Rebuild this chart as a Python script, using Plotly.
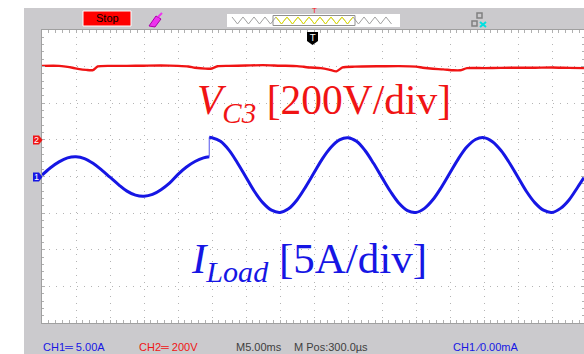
import plotly.graph_objects as go

# ---- CH1: load current (A), sampled in ms ----
i_before_t = [0, 1.25, 2.5, 3.75, 5, 6.25, 7.5, 8.75, 10, 11.25, 12.5, 13.75, 15,
              16.25, 17.5, 18.75, 20, 21.25, 22.5, 23.75, 24.6]
i_before_a = [0.2, 1.2, 2.0, 2.55, 2.7, 2.45, 1.8, 0.9, -0.1, -1.1, -2.0, -2.55, -2.7,
              -2.45, -1.8, -0.9, 0.3, 1.3, 2.05, 2.55, 2.7]

i_after_t = [24.6, 25, 26.25, 27.5, 28.75, 30, 31.25, 32.5, 33.75, 35, 36.25, 37.5, 38.75,
             40, 41.25, 42.5, 43.75, 45, 46.25, 47.5, 48.75, 50, 51.25, 52.5, 53.75,
             55, 56.25, 57.5, 58.75, 60, 61.25, 62.5, 63.75, 65, 66.25, 67.5, 68.75,
             70, 71.25, 72.5, 73.75, 75, 76.25, 77.5, 78.75, 79.7]
i_after_a = [5.35, 5.3, 4.8, 3.6, 1.85, -0.1, -2.05, -3.6, -4.6, -4.9, -4.4, -3.2, -1.45,
             0.5, 2.45, 4.0, 5.0, 5.3, 4.8, 3.55, 1.8, -0.15, -2.05, -3.65, -4.65,
             -4.9, -4.35, -3.15, -1.45, 0.5, 2.45, 4.05, 5.05, 5.3, 4.75, 3.55, 1.85,
             -0.1, -2.05, -3.6, -4.6, -4.9, -4.35, -3.2, -1.5, -0.15]

# ---- CH2: capacitor voltage V_C3 (V) ----
v_t = [0, 2.5, 3.5, 4.5, 5.5, 6.5, 7.5, 8.2, 10, 12.5, 15, 17.5, 20, 21.5, 22.5, 24, 25,
       25.8, 27.5, 30, 32.5, 35, 37.5, 38.5, 39.5, 41, 42.2, 43.3, 44.2, 46, 50, 52.5,
       55, 56, 57.5, 59, 60.5, 61.5, 62.5, 65, 67.5, 70, 72.5, 75, 77.5, 79.7]
v_v = [404, 404, 400, 394, 386, 382, 381, 401, 404, 404, 405, 406, 404, 401, 394, 389,
       390, 402, 404, 406, 408, 405, 403, 399, 395, 392, 384, 374, 396, 400, 402, 403,
       400, 394, 388, 385, 380, 380, 392, 392, 393, 394, 394, 395, 393, 392]

BLUE = "#1616e4"
RED = "#f01414"
GRAY_BG = "#cbcacd"

W, H = 584, 354
L, T, B = 42, 30, 31
PW, PH = W - L, H - T - B   # plot area in px


def px(x):
    return (x - L) / PW


def py(y):
    return (H - B - y) / PH


fig = go.Figure()

fig.add_trace(go.Scatter(x=v_t, y=v_v, yaxis="y2", mode="lines",
                         line=dict(color=RED, width=2.4, shape="spline", smoothing=0.6),
                         hoverinfo="skip"))
fig.add_trace(go.Scatter(x=i_before_t, y=i_before_a, mode="lines",
                         line=dict(color=BLUE, width=3, shape="spline"), hoverinfo="skip"))
fig.add_trace(go.Scatter(x=[i_before_t[-1], i_after_t[0]], y=[i_before_a[-1], i_after_a[0]],
                         mode="lines", line=dict(color="#6f6ff0", width=1.2), hoverinfo="skip"))
fig.add_trace(go.Scatter(x=i_after_t, y=i_after_a, mode="lines",
                         line=dict(color=BLUE, width=3, shape="spline"), hoverinfo="skip"))

shapes = []
# white margins around the scope frame
shapes.append(dict(type="rect", xref="paper", yref="paper", x0=px(0), x1=px(24),
                   y0=py(H), y1=py(0), fillcolor="white", line_width=0, layer="below"))
shapes.append(dict(type="rect", xref="paper", yref="paper", x0=px(0), x1=px(W),
                   y0=py(8), y1=py(0), fillcolor="white", line_width=0, layer="below"))
# Stop button
shapes.append(dict(type="rect", xref="paper", yref="paper", x0=px(83), x1=px(131),
                   y0=py(26), y1=py(11), fillcolor="#ff0000", line=dict(color="white", width=1)))
# probe icon
shapes.append(dict(type="path", xref="paper", yref="paper",
                   path="M %f,%f L %f,%f L %f,%f L %f,%f Z" % (
                       px(149), py(26), px(156), py(16), px(161), py(19), px(155), py(27)),
                   fillcolor="#ee33ee", line=dict(color="#aa00aa", width=1)))
shapes.append(dict(type="line", xref="paper", yref="paper", x0=px(158), y0=py(17),
                   x1=px(162), y1=py(13), line=dict(color="#ee33ee", width=2)))
# record overview box
shapes.append(dict(type="rect", xref="paper", yref="paper", x0=px(227), x1=px(400),
                   y0=py(27), y1=py(14), fillcolor="white", line_width=0))
zig = []
xz = 232
k = 0
while xz <= 396:
    zig.append((xz, 17 if k % 2 == 0 else 24))
    xz += 5.5
    k += 1
pth = "M " + " L ".join("%f,%f" % (px(a), py(b)) for a, b in zig)
shapes.append(dict(type="path", xref="paper", yref="paper", path=pth,
                   line=dict(color="#a0a0a0", width=1)))
shapes.append(dict(type="rect", xref="paper", yref="paper", x0=px(273), x1=px(355),
                   y0=py(25.5), y1=py(15.5), line=dict(color="#909090", width=1)))
zy = [(a, b) for a, b in zig if 273 <= a <= 355]
pth = "M " + " L ".join("%f,%f" % (px(a), py(b)) for a, b in zy)
shapes.append(dict(type="path", xref="paper", yref="paper", path=pth,
                   line=dict(color="#e8e800", width=1)))
# network icon
for (x0, y0) in [(477, 13), (472, 21)]:
    shapes.append(dict(type="rect", xref="paper", yref="paper", x0=px(x0), x1=px(x0 + 5),
                       y0=py(y0 + 5), y1=py(y0), line=dict(color="#808080", width=1.5)))
shapes.append(dict(type="line", xref="paper", yref="paper", x0=px(480), y0=py(22),
                   x1=px(486), y1=py(27), line=dict(color="#00e0e0", width=2)))
shapes.append(dict(type="line", xref="paper", yref="paper", x0=px(486), y0=py(22),
                   x1=px(480), y1=py(27), line=dict(color="#00e0e0", width=2)))
# trigger position marker
shapes.append(dict(type="path", xref="paper", yref="paper",
                   path="M %f,%f L %f,%f L %f,%f L %f,%f L %f,%f Z" % (
                       px(307), py(32), px(318), py(32), px(318), py(41), px(312.5), py(45),
                       px(307), py(41)),
                   fillcolor="black", line_width=0))
# channel ground markers
for (yc, col) in [(140, RED), (177, BLUE)]:
    shapes.append(dict(type="path", xref="paper", yref="paper",
                       path="M %f,%f L %f,%f L %f,%f L %f,%f L %f,%f Z" % (
                           px(33), py(yc - 4.5), px(39), py(yc - 4.5), px(42.5), py(yc),
                           px(39), py(yc + 4.5), px(33), py(yc + 4.5)),
                       fillcolor=col, line_width=0))

ann = []


def txt(x, y, s, color, size, family="Liberation Sans", xanchor="left", yanchor="middle"):
    ann.append(dict(x=px(x), y=py(y), xref="paper", yref="paper", text=s, showarrow=False,
                    xanchor=xanchor, yanchor=yanchor, font=dict(color=color, size=size,
                                                                family=family)))


txt(107, 18.5, "Stop", "black", 11, xanchor="center")
txt(314, 11, "T", "#ff2020", 8, xanchor="center")
txt(312.5, 38, "T", "white", 9, family="DejaVu Sans", xanchor="center")
txt(36, 140, "2", "white", 9, xanchor="center")
txt(36, 177, "1", "white", 9, xanchor="center")

# bottom status line
txt(41, 347, "CH1═ 5.00A", BLUE, 11)
txt(137, 347, "CH2═ 200V", RED, 11)
txt(234, 347, "M5.00ms", "#404040", 11)
txt(292, 347, "M Pos:300.0µs", "#404040", 11)
txt(451, 347, "CH1 ∕0.00mA", BLUE, 11)

# channel labels
txt(195, 103, "<i>V</i><sub><i>C3</i></sub> [200V/div]", RED, 41.5, family="Liberation Serif")
txt(189, 262, "<i>I</i><sub><i>Load</i></sub> [5A/div]", BLUE, 43, family="Liberation Serif")

grid = dict(showgrid=True, gridcolor="#b4b4b4", gridwidth=1, griddash="1px,6px",
            zeroline=False, showticklabels=False, showline=True, linecolor="#a0a0a0",
            linewidth=1, mirror="allticks", ticks="inside", ticklen=3, tickcolor="#b0b0b0")

fig.update_layout(
    width=W, height=H,
    margin=dict(l=L, r=0, t=T, b=B, pad=0),
    paper_bgcolor=GRAY_BG, plot_bgcolor="white",
    showlegend=False,
    xaxis=dict(range=[0, PW / 34 * 5], dtick=5, tick0=0, fixedrange=True,
               minor=dict(ticks="inside", ticklen=2, tickcolor="#b0b0b0",
                          showgrid=False, dtick=1),
               **grid),
    yaxis=dict(range=[-20, 20], dtick=5, tick0=0, fixedrange=True,
               minor=dict(ticks="inside", ticklen=2, tickcolor="#b0b0b0",
                          showgrid=False, dtick=1),
               **grid),
    yaxis2=dict(range=[-1000, 600], overlaying="y", showgrid=False, showticklabels=False,
                zeroline=False, ticks="", showline=False, fixedrange=True),
    shapes=shapes,
    annotations=ann,
)

fig.write_html("out.html")
